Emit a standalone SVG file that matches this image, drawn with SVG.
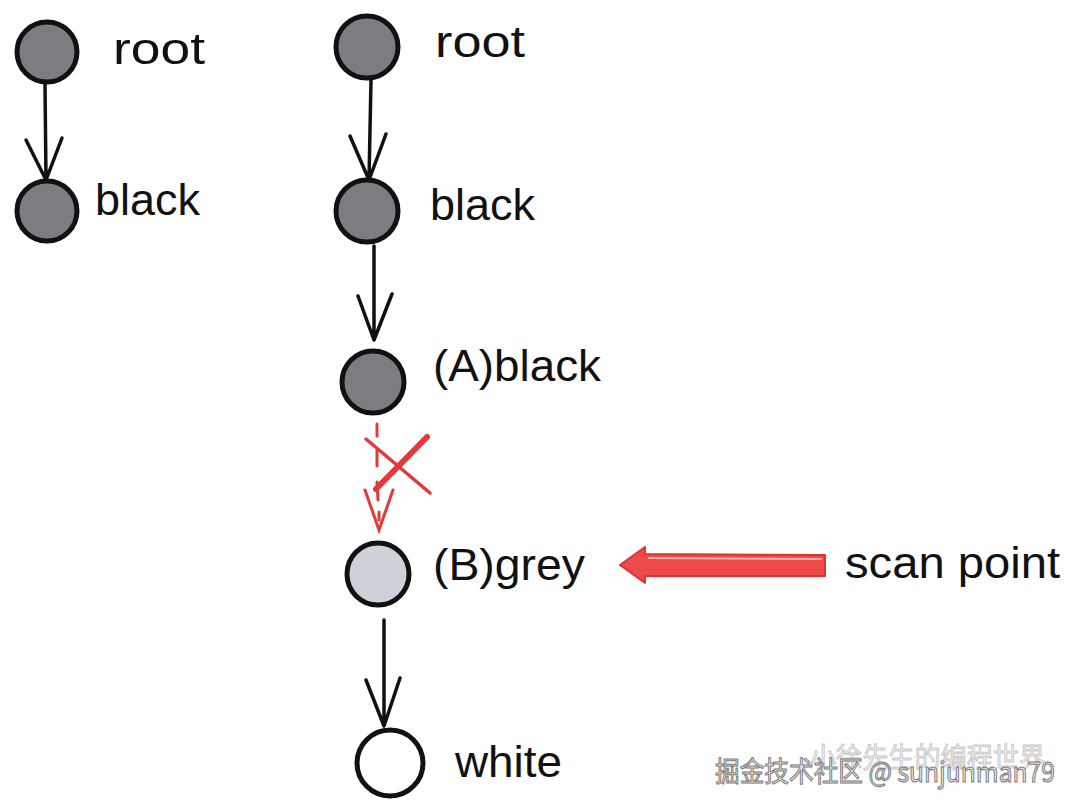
<svg xmlns="http://www.w3.org/2000/svg" width="1080" height="807" viewBox="0 0 1080 807">
<defs>
<style>
.node{stroke:#111;stroke-width:5}
.dark{fill:#7b7d83}
.light{fill:#cdd1d8}
.white{fill:#fff}
.lbl{font-family:"Liberation Sans","DejaVu Sans",sans-serif;font-size:44px;fill:#111;font-weight:normal}
.edge{stroke:#111;stroke-width:3.5;fill:none;stroke-linecap:round;stroke-linejoin:round}
.red{stroke:#e03a3a;stroke-width:3;fill:none;stroke-linecap:round}
.wm{font-family:"Noto Sans CJK SC","Liberation Sans",sans-serif;font-size:28px;fill:#e8e8e8;stroke:#777;stroke-width:1}
</style>
</defs>
<rect width="1080" height="807" fill="#fff"/>
<g id="connectors">
<path class="edge" d="M45 84 L46 180 M26 140 L46 180 L62 138"/>
<path class="edge" d="M371 80 L369 180 M350 136 L369 180 L386 134"/>
<path class="edge" d="M374 246 L374 340 M358 296 L374 340 L392 294"/>
<path class="red" d="M377 424 L377 436 M377 450 L377 466 M377 482 L378 500 M379 512 L379 520 M365 490 L379 530 L393 490" stroke-dasharray="none"/>
<path d="M366 439 L430 493" stroke="#e03a3a" stroke-width="3.5" stroke-linecap="round" fill="none"/>
<path d="M427 437 L376 489" stroke="#e03a3a" stroke-width="6" stroke-linecap="round" fill="none"/>
<path class="edge" d="M384 620 L384 726 M366 680 L384 726 L400 678"/>
<g id="scan-arrow">
<path d="M825 555 L645 554 L645 547 L620 565 L645 583 L645 576 L825 576 Z" fill="#ee4a4a" stroke="#d33" stroke-width="2" stroke-linejoin="round"/>
<path d="M648 558 L822 559" stroke="#f5b0b0" stroke-width="2"/>
</g>
</g>
<g id="node-root1"><circle class="node dark" cx="47" cy="52" r="30"/><text class="lbl" x="113" y="64" textLength="92" lengthAdjust="spacingAndGlyphs">root</text></g>
<g id="node-black1"><circle class="node dark" cx="47" cy="211" r="30"/><text class="lbl" x="95" y="215" textLength="105" lengthAdjust="spacingAndGlyphs">black</text></g>
<g id="node-root2"><circle class="node dark" cx="367" cy="47" r="31"/><text class="lbl" x="435" y="57" textLength="90" lengthAdjust="spacingAndGlyphs">root</text></g>
<g id="node-black2"><circle class="node dark" cx="367" cy="211" r="31"/><text class="lbl" x="430" y="220" textLength="105" lengthAdjust="spacingAndGlyphs">black</text></g>
<g id="node-A"><circle class="node dark" cx="373" cy="382" r="31"/><text class="lbl" x="433" y="381" textLength="168" lengthAdjust="spacingAndGlyphs">(A)black</text></g>
<g id="node-B"><circle class="node light" cx="378" cy="574" r="31"/><text class="lbl" x="433" y="580" textLength="152" lengthAdjust="spacingAndGlyphs">(B)grey</text></g>
<g id="node-white"><circle class="node white" cx="390" cy="763" r="33"/><text class="lbl" x="455" y="777" textLength="107" lengthAdjust="spacingAndGlyphs">white</text></g>
<g id="scan-label"><text class="lbl" x="845" y="578" textLength="215" lengthAdjust="spacingAndGlyphs">scan point</text></g>
<g id="watermark">
<text class="wm" x="810" y="768" fill-opacity="0.5" stroke-opacity="0.4" textLength="235" lengthAdjust="spacingAndGlyphs">小徐先生的编程世界</text>
<text class="wm" x="715" y="782" textLength="340" lengthAdjust="spacingAndGlyphs">掘金技术社区 @ sunjunman79</text>
</g>
</svg>
